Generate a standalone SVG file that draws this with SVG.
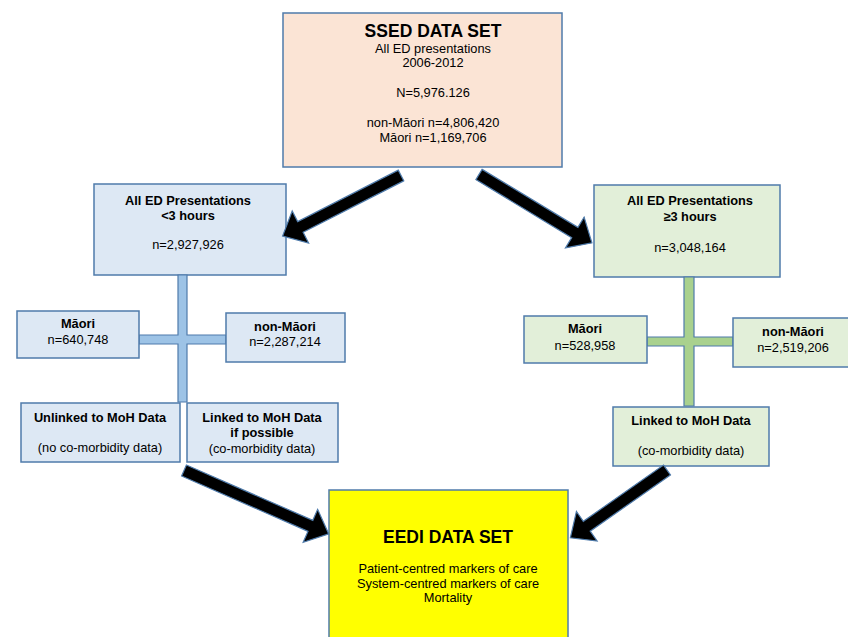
<svg xmlns="http://www.w3.org/2000/svg" width="848" height="637" viewBox="0 0 848 637">
<style>
text{font-family:"Liberation Sans",Arial,sans-serif;font-size:12.8px;fill:#000;text-anchor:middle}
.b{font-weight:bold}
.t{font-weight:bold;font-size:17.5px}
.box{stroke:#4f7bab;stroke-width:1.5}
.peach{fill:#fbe4d5}
.blue{fill:#dde8f4}
.green{fill:#e2efd9}
.yellow{fill:#ffff00}
.arr{fill:#000;stroke:#4f7bab;stroke-width:1.2;stroke-linejoin:miter}
.crossb{fill:#9dc3e6;stroke:#4f7bab;stroke-width:1.2}
.crossg{fill:#a9d18e;stroke:#4f7bab;stroke-width:1.2}
</style>
<rect width="848" height="637" fill="#fff"/>
<g id="ssed">
<rect class="box peach" x="283" y="13" width="279" height="154"/>
<text class="t" x="433" y="37">SSED DATA SET</text>
<text x="433" y="53">All ED presentations</text>
<text x="433" y="67">2006-2012</text>
<text x="433" y="97">N=5,976.126</text>
<text x="433" y="127">non-Māori n=4,806,420</text>
<text x="433" y="141.5">Māori n=1,169,706</text>
</g>
<g id="lt3">
<rect class="box blue" x="94" y="184" width="192" height="91"/>
<text class="b" x="188" y="205">All ED Presentations</text>
<text class="b" x="188" y="220">&lt;3 hours</text>
<text x="188" y="249">n=2,927,926</text>
</g>
<g id="ge3">
<rect class="box green" x="594" y="185" width="186" height="92"/>
<text class="b" x="690" y="205">All ED Presentations</text>
<text class="b" x="690" y="221">≥3 hours</text>
<text x="690" y="252">n=3,048,164</text>
</g>
<g id="connectors">
<path class="crossb" d="M178,275 H187 V335 H226 V344 H187 V402 H178 V344 H139 V335 H178 Z"/>
<path class="crossg" d="M684,277 H694 V337 H733 V346 H694 V406 H684 V346 H647 V337 H684 Z"/>
</g>
<g id="maori-l">
<rect class="box blue" x="17" y="311" width="122" height="47"/>
<text class="b" x="78" y="328">Māori</text>
<text x="78" y="344">n=640,748</text>
</g>
<g id="nonmaori-l">
<rect class="box blue" x="226" y="313" width="119" height="49"/>
<text class="b" x="285" y="331">non-Māori</text>
<text x="285" y="346">n=2,287,214</text>
</g>
<g id="unlinked">
<rect class="box blue" x="21" y="403" width="159" height="59"/>
<text class="b" x="100" y="422">Unlinked to MoH Data</text>
<text x="100" y="452">(no co-morbidity data)</text>
</g>
<g id="linked-l">
<rect class="box blue" x="187" y="403" width="151" height="59"/>
<text class="b" x="262" y="422">Linked to MoH Data</text>
<text class="b" x="262" y="437">if possible</text>
<text x="262" y="453">(co-morbidity data)</text>
</g>
<g id="maori-r">
<rect class="box green" x="524" y="316" width="123" height="47"/>
<text class="b" x="585" y="333">Māori</text>
<text x="585" y="350">n=528,958</text>
</g>
<g id="nonmaori-r">
<rect class="box green" x="733" y="318" width="120" height="49"/>
<text class="b" x="793" y="336">non-Māori</text>
<text x="793" y="352">n=2,519,206</text>
</g>
<g id="linked-r">
<rect class="box green" x="613" y="407" width="156" height="59"/>
<text class="b" x="691" y="425">Linked to MoH Data</text>
<text x="691" y="455">(co-morbidity data)</text>
</g>
<g id="eedi">
<rect class="box yellow" x="329" y="490" width="239" height="160"/>
<text class="t" x="448" y="543">EEDI DATA SET</text>
<text x="448" y="573">Patient-centred markers of care</text>
<text x="448" y="588">System-centred markers of care</text>
<text x="448" y="602">Mortality</text>
</g>
<g id="arrows">
<polygon class="arr" transform="translate(401,175.5) rotate(152.9)" points="0,-6 113,-6 113,-18 133,0 113,18 113,6 0,6"/>
<polygon class="arr" transform="translate(479,174.5) rotate(31.2)" points="0,-6 112,-6 112,-18 132,0 112,18 112,6 0,6"/>
<polygon class="arr" transform="translate(184,470.5) rotate(23.65)" points="0,-6 138,-6 138,-18 158,0 138,18 138,6 0,6"/>
<polygon class="arr" transform="translate(667,470) rotate(144.97)" points="0,-6 98,-6 98,-18 118,0 98,18 98,6 0,6"/>
</g>
</svg>
